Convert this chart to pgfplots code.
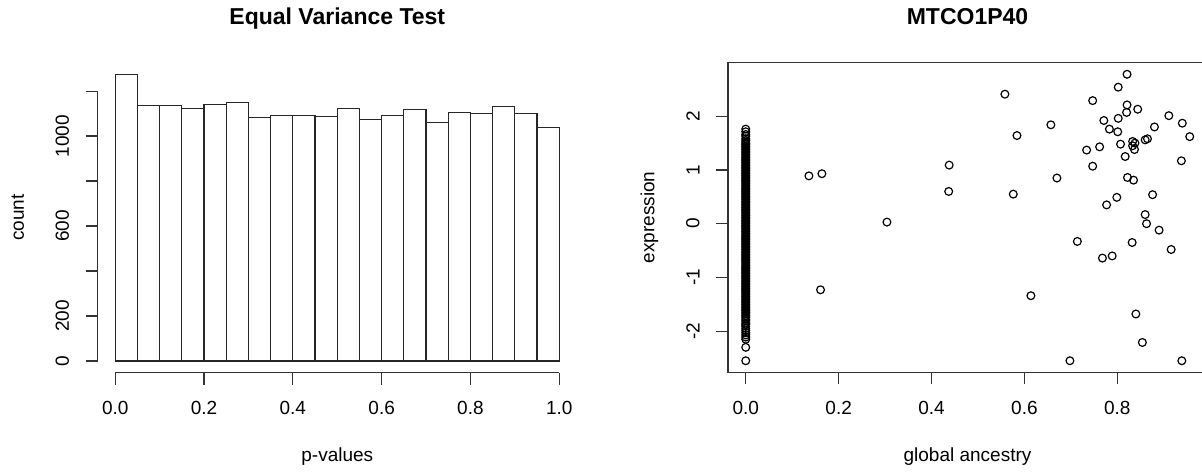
\documentclass[border=0pt]{standalone}
\usepackage{fontspec}
\setmainfont{Liberation Sans}
\usepackage{pgfplots}
\pgfplotsset{compat=1.18}
\begin{document}
\begin{tikzpicture}
\useasboundingbox (0,0) rectangle (601pt,235.5pt);
\clip (0,0) rectangle (601pt,235.5pt);
\pgfplotsset{
  rstyle/.style={
    scale only axis,
    clip=false,
    tick align=outside,
    major tick length=6pt,
    every tick/.style={black!80, line width=0.6pt},
    tick label style={font=\fontsize{9.5}{11}\selectfont},
    xticklabel style={anchor=north, inner sep=0pt},
    yticklabel style={rotate=90, anchor=south, inner sep=0pt},
    xticklabel shift=8.2pt,
    yticklabel shift=8pt,
  },
  rmark/.style={only marks, mark=o, mark size=1.95pt, mark options={line width=0.6pt, draw=black}},
  rdense/.style={only marks, mark=*, mark size=1.95pt, mark options={line width=0.6pt, draw=black, fill=black}},
}
% ---------------- left: histogram ----------------
\begin{axis}[rstyle,
  at={(48.75pt,49.25pt)}, anchor=south west,
  width=239.75pt, height=154.75pt,
  xmin=-0.04, xmax=1.04, ymin=-51, ymax=1325,
  axis x line*=bottom, axis y line*=left,
  axis line style={draw=none},
  xtick={0,0.2,0.4,0.6,0.8,1},
  xticklabels={0.0,0.2,0.4,0.6,0.8,1.0},
  ytick={0,200,400,600,800,1000,1200},
  yticklabels={0,200,,600,,1000,},
]
\addplot[ybar interval, fill=white, draw=black!85, line width=0.6pt] coordinates {
(0.00,1274) (0.05,1136) (0.10,1136) (0.15,1124) (0.20,1141)
(0.25,1151) (0.30,1081) (0.35,1093) (0.40,1092) (0.45,1086)
(0.50,1123) (0.55,1074) (0.60,1093) (0.65,1120) (0.70,1062)
(0.75,1105) (0.80,1102) (0.85,1130) (0.90,1102) (0.95,1037)
(1.00,1037)
};
\draw[black!80, line width=0.6pt] (axis cs:0,-51) -- (axis cs:1,-51);
\draw[black!80, line width=0.6pt] (axis cs:-0.04,0) -- (axis cs:-0.04,1200);
\end{axis}
% ---------------- right: scatter ----------------
\begin{axis}[rstyle,
  at={(364pt,49.35pt)}, anchor=south west,
  width=239.5pt, height=155pt,
  xmin=-0.0382, xmax=0.9932, ymin=-2.765, ymax=3.003,
  axis line style={black!80, line width=0.6pt},
  tick pos=left,
  xtick={0,0.2,0.4,0.6,0.8},
  xticklabels={0.0,0.2,0.4,0.6,0.8},
  ytick={-2,-1,0,1,2},
  yticklabels={-2,-1,0,1,2},
]
% dense core of the column of samples with global ancestry 0 (overlapping circles render solid)
\addplot[rdense] coordinates {
(0,1.44) (0,1.41) (0,1.38) (0,1.35) (0,1.32) (0,1.29) (0,1.26) (0,1.23)
(0,1.20) (0,1.17) (0,1.14) (0,1.11) (0,1.08) (0,1.05) (0,1.02) (0,0.99) (0,0.96) (0,0.93)
(0,0.90) (0,0.87) (0,0.84) (0,0.81) (0,0.78) (0,0.75) (0,0.72) (0,0.69) (0,0.66) (0,0.63)
(0,0.60) (0,0.57) (0,0.54) (0,0.51) (0,0.48) (0,0.45) (0,0.42) (0,0.39) (0,0.36) (0,0.33)
(0,0.30) (0,0.27) (0,0.24) (0,0.21) (0,0.18) (0,0.15) (0,0.12) (0,0.09) (0,0.06) (0,0.03)
(0,0.00) (0,-0.03) (0,-0.06) (0,-0.09) (0,-0.12) (0,-0.15) (0,-0.18) (0,-0.21) (0,-0.24) (0,-0.27)
(0,-0.30) (0,-0.33) (0,-0.36) (0,-0.39) (0,-0.42) (0,-0.45) (0,-0.48) (0,-0.51) (0,-0.54) (0,-0.57)
(0,-0.60) (0,-0.63) (0,-0.66) (0,-0.69) (0,-0.72) (0,-0.75) (0,-0.78) (0,-0.81) (0,-0.84) (0,-0.87)
(0,-0.90) (0,-0.93) (0,-0.96) (0,-0.99) (0,-1.02) (0,-1.05) (0,-1.08) (0,-1.11) (0,-1.14) (0,-1.17)
(0,-1.20) (0,-1.23) (0,-1.26) (0,-1.29) (0,-1.32) (0,-1.35) (0,-1.38) (0,-1.41) (0,-1.44) (0,-1.47)
(0,-1.50) (0,-1.53) (0,-1.56) (0,-1.59) (0,-1.62) (0,-1.65)
};
% sparser ends of the column
\addplot[rmark] coordinates {
(0,1.76) (0,1.71) (0,1.66) (0,1.63) (0,1.58) (0,1.55) (0,1.52) (0,1.49) (0,1.47)
(0,-1.68) (0,-1.71) (0,-1.74) (0,-1.78) (0,-1.81) (0,-1.85) (0,-1.88) (0,-1.91) (0,-1.95)
(0,-1.99) (0,-2.03) (0,-2.07) (0,-2.11) (0,-2.15) (0,-2.30) (0,-2.55)
};
% remaining samples
\addplot[rmark] coordinates {
(0.136,0.89) (0.164,0.93) (0.304,0.03) (0.161,-1.23)
(0.438,1.09) (0.437,0.60)
(0.821,2.78) (0.802,2.54) (0.558,2.41) (0.747,2.29) (0.821,2.21) (0.844,2.13)
(0.820,2.07) (0.911,2.01) (0.802,1.96) (0.771,1.92) (0.940,1.87) (0.657,1.84)
(0.880,1.80) (0.783,1.76) (0.801,1.71) (0.584,1.64) (0.956,1.62) (0.865,1.58)
(0.860,1.56) (0.833,1.53) (0.838,1.50) (0.807,1.48) (0.833,1.45) (0.762,1.43)
(0.734,1.37) (0.837,1.38) (0.817,1.25) (0.938,1.17) (0.747,1.07) (0.670,0.85)
(0.822,0.86) (0.835,0.81) (0.576,0.55) (0.876,0.54) (0.799,0.49) (0.777,0.35)
(0.860,0.17) (0.863,0.00) (0.890,-0.12) (0.714,-0.33) (0.832,-0.35) (0.916,-0.48)
(0.768,-0.64) (0.789,-0.60) (0.614,-1.34) (0.840,-1.68) (0.854,-2.21) (0.698,-2.55)
(0.939,-2.55)
};
\end{axis}
% ---------------- titles and axis labels ----------------
\node[font=\bfseries\fontsize{11.5}{14}\selectfont, anchor=base] at (168.65pt,223pt) {Equal Variance Test};
\node[font=\bfseries\fontsize{11.5}{14}\selectfont, anchor=base] at (483.75pt,223pt) {MTCO1P40};
\node[font=\fontsize{9.5}{11}\selectfont, anchor=base] at (168.65pt,4.75pt) {p-values};
\node[font=\fontsize{9.5}{11}\selectfont, anchor=base] at (483.75pt,4.75pt) {global ancestry};
\node[font=\fontsize{9.5}{11}\selectfont, rotate=90, anchor=base] at (11.9pt,126.75pt) {count};
\node[font=\fontsize{9.5}{11}\selectfont, rotate=90, anchor=base] at (327.15pt,126.75pt) {expression};
\end{tikzpicture}
\end{document}
